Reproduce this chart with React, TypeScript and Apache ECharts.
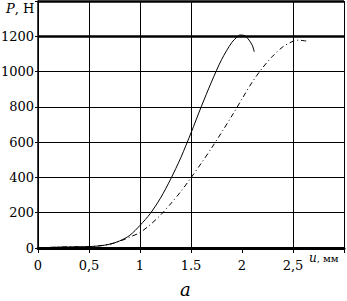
import React, { useEffect, useRef } from "react";
import * as echarts from "echarts";

const solidU = [0, 0.2, 0.4, 0.5, 0.6, 0.7, 0.8, 0.9, 1.0, 1.1, 1.2, 1.3, 1.4, 1.5, 1.6, 1.7, 1.8, 1.9, 1.95, 1.98, 2.02, 2.06, 2.1, 2.12];
const solidP = [0, 5, 7, 8, 12, 21, 40, 72, 128, 195, 282, 390, 512, 652, 800, 940, 1068, 1165, 1195, 1207, 1205, 1185, 1150, 1112];

const dashU = [0, 0.2, 0.4, 0.5, 0.6, 0.7, 0.8, 0.9, 1.0, 1.1, 1.2, 1.3, 1.4, 1.5, 1.6, 1.7, 1.8, 1.9, 2.0, 2.1, 2.2, 2.3, 2.4, 2.5, 2.55, 2.63];
const dashP = [0, 5, 7, 8, 12, 21, 38, 62, 88, 132, 186, 250, 320, 398, 480, 565, 655, 748, 845, 940, 1020, 1087, 1140, 1172, 1178, 1173];

const xTickLabels: Record<string, string> = { "0": "0", "0.5": "0,5", "1": "1", "1.5": "1.5", "2": "2", "2.5": "2,5", "3": "" };
const yTickLabels = ["0", "200", "400", "600", "800", "1000", "1200", ""];
const thickY = [1200, 1400];

const FONT = "DejaVu Serif";

export default function App() {
  const ref = useRef<HTMLDivElement>(null);
  useEffect(() => {
    if (!ref.current) return;
    const chart = echarts.init(ref.current, undefined, { renderer: "svg" });
    chart.setOption({
      animation: false,
      backgroundColor: "#fff",
      textStyle: { fontFamily: FONT },
      grid: { left: 38, right: 3, top: 1, bottom: 53, containLabel: false, outerBoundsMode: "none" },
      xAxis: {
        type: "value",
        min: 0,
        max: 3,
        interval: 0.5,
        axisLine: { show: true, onZero: false, lineStyle: { color: "#000", width: 3 } },
        axisTick: { show: true, length: 5, lineStyle: { color: "#000", width: 1 } },
        axisLabel: {
          color: "#000",
          fontFamily: FONT,
          fontSize: 13,
          margin: 11,
          formatter: (v: number) => xTickLabels[String(v)] ?? "",
        },
        splitLine: {
          show: true,
          lineStyle: { color: ["#000", "#000", "#000", "#000", "rgba(0,0,0,0)", "#000", "#000"], width: 1 },
        },
      },
      yAxis: {
        type: "value",
        min: 0,
        max: 1400,
        interval: 200,
        axisLine: { show: true, onZero: false, lineStyle: { color: "#000", width: 1.5 } },
        axisTick: { show: true, length: 3, lineStyle: { color: "#000", width: 1 } },
        axisLabel: {
          color: "#000",
          fontFamily: FONT,
          fontSize: 13,
          margin: 4,
          formatter: (v: number) => yTickLabels[Math.round(v / 200)] ?? "",
        },
        splitLine: { show: true, lineStyle: { color: "#000", width: 1 } },
      },
      series: [
        {
          type: "line",
          data: solidU.map((u, i) => [u, solidP[i]]),
          showSymbol: false,
          smooth: 0.3,
          lineStyle: { color: "#000", width: 1 },
          markLine: {
            silent: true,
            symbol: "none",
            label: { show: false },
            lineStyle: { color: "#000", width: 2.5, type: "solid" },
            data: thickY.map((y) => ({ yAxis: y })),
          },
        },
        {
          type: "line",
          data: dashU.map((u, i) => [u, dashP[i]]),
          showSymbol: false,
          smooth: 0.3,
          lineStyle: { color: "#000", width: 1, type: [5, 3, 1, 3] },
        },
      ],
      graphic: [
        {
          type: "text",
          left: 6,
          top: 2,
          style: {
            text: "{i|P}, Н",
            font: "13px " + FONT,
            fill: "#000",
            rich: { i: { fontStyle: "italic", fontFamily: FONT, fontSize: 13, fill: "#000" } },
          },
        },
        {
          type: "text",
          left: 309,
          top: 252,
          style: {
            text: "{i|u}, мм",
            font: "10px " + FONT,
            fill: "#000",
            rich: { i: { fontStyle: "italic", fontFamily: FONT, fontSize: 12, fill: "#000" } },
          },
        },
        {
          type: "text",
          left: 180,
          top: 280,
          style: { text: "а", font: "italic 18px " + FONT, fill: "#000" },
        },
      ],
    });
    return () => chart.dispose();
  }, []);
  return <div ref={ref} style={{ position: "fixed", left: 0, top: 0, width: 347, height: 301 }} />;
}
